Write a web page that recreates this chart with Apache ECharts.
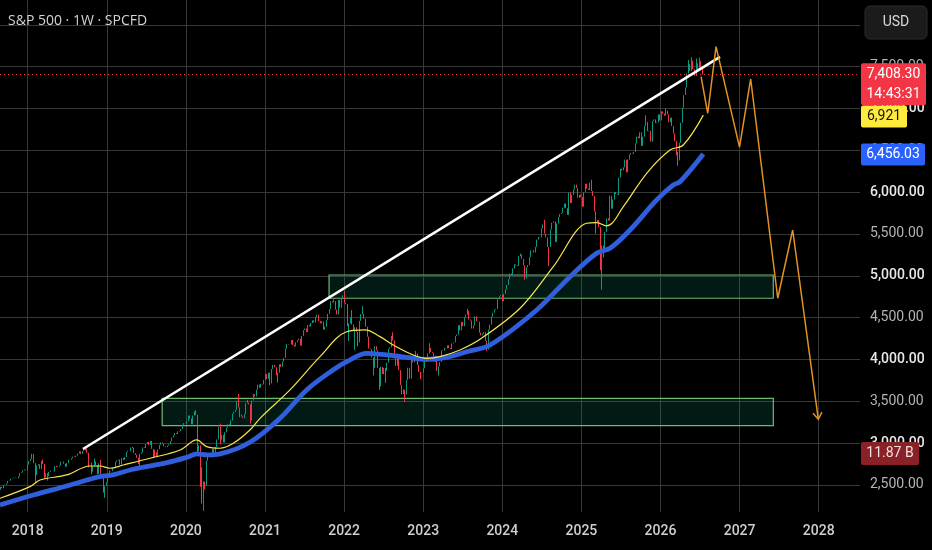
<!DOCTYPE html>
<html>
<head>
<meta charset="utf-8">
<script src="https://cdn.jsdelivr.net/npm/echarts@6/dist/echarts.min.js"></script>
<style>
html,body{margin:0;padding:0;background:#000;}
#c{width:932px;height:550px;}
</style>
</head>
<body>
<div id="c"></div>
<script>
// ---------- DATA (weekly closes, S&P 500, week ending Fridays) ----------
const firstOpen = 2425; // close of week before first bar
const c2017 = [2443,2477,2461,2500,2502,2519,2549,2553,2575,2581,2588,2582,2579,2602,2642,2652,2675,2684,2674];
const c2018 = [2743,2786,2810,2873,2762,2620,2732,2747,2691,2786,2752,2588,2640,2604,2656,2670,2670,2663,2728,2713,2721,2735,2779,2780,2755,2718,2760,2801,2802,2819,2840,2833,2850,2875,2902,2872,2905,2930,2914,2886,2767,2768,2659,2723,2781,2736,2633,2760,2633,2600,2417,2486];
const c2019 = [2532,2596,2671,2665,2707,2708,2776,2793,2804,2743,2822,2800,2834,2893,2907,2905,2940,2946,2881,2860,2826,2752,2873,2887,2950,2942,2990,3014,2977,3026,2932,2919,2889,2847,2926,2979,3007,2992,2962,2952,2970,2986,3023,3067,3093,3120,3110,3141,3146,3169,3221,3240];
const c2020 = [3235,3265,3330,3295,3226,3328,3380,3338,2954,2972,2711,2305,2541,2489,2790,2875,2837,2831,2930,2864,2955,3044,3194,3041,3098,3009,3130,3185,3225,3216,3271,3351,3373,3397,3508,3427,3341,3319,3298,3348,3477,3484,3465,3270,3510,3585,3558,3638,3699,3663,3709,3703,3756];
const c2021 = [3825,3768,3841,3714,3887,3934,3907,3811,3842,3943,3913,3975,4020,4129,4185,4180,4181,4233,4174,4156,4204,4230,4247,4166,4281,4352,4370,4327,4412,4395,4437,4468,4442,4509,4535,4459,4433,4455,4357,4391,4471,4545,4605,4697,4682,4698,4595,4538,4712,4620,4726,4766];
const c2022 = [4677,4662,4398,4432,4501,4419,4349,4385,4329,4204,4463,4543,4546,4488,4392,4272,4132,4123,4024,3901,4158,4109,3901,3675,3912,3825,3899,3863,3962,4130,4145,4280,4228,4058,3924,4067,3873,3693,3586,3640,3583,3752,3901,3771,3993,3965,4026,4072,3934,3852,3845,3840];
const c2023 = [3895,3999,3973,4071,4136,4090,4079,3970,4045,3862,3917,3971,4109,4105,4138,4133,4169,4136,4124,4192,4205,4282,4299,4410,4348,4450,4399,4505,4536,4582,4478,4464,4370,4406,4516,4457,4450,4320,4288,4309,4327,4224,4117,4358,4415,4514,4559,4595,4604,4719,4755,4770];
const c2024 = [4697,4784,4840,4891,4959,5027,5006,5089,5137,5124,5117,5234,5254,5204,5123,4967,5100,5128,5223,5303,5305,5278,5347,5432,5465,5460,5567,5615,5505,5459,5346,5344,5554,5635,5648,5408,5626,5703,5738,5751,5815,5864,5808,5729,5996,5870,5969,6032,6090,6051,5931,5971];
const c2025 = [5942,5827,5997,6101,6041,6026,6115,6013,5955,5770,5639,5668,5581,5074,5363,5283,5525,5687,5660,5958,5803,5912,6000,5977,5968,6173,6279,6260,6297,6389,6238,6389,6450,6467,6460,6482,6584,6664,6644,6716,6553,6664,6792,6840,6728,6734,6603,6849,6870,6827,6834,6930];
const c2026 = [6858,6966,6940,6915,6975,6932,6836,6890,6790,6700,6610,6480,6380,6590,6830,7010,7160,7250,7420,7530,7450,7570,7470,7390,7540,7450,7565,7490,7408.30];

// wick extremes (week-ending date, value)
const wickHigh = [['2018-01-26',2873],['2018-03-09',2787],['2018-03-16',2802],['2018-09-21',2941],['2018-10-05',2939],['2018-11-09',2815],['2018-12-07',2800],['2019-04-26',2947],['2019-05-03',2954],['2019-07-26',3028],['2020-02-21',3393],['2020-06-12',3233],['2020-09-04',3588],['2020-10-16',3515],['2021-11-19',4718],['2022-01-07',4818],['2022-02-11',4590],['2022-04-01',4637],['2022-08-19',4325],['2022-12-02',4101],['2023-02-03',4195],['2023-07-28',4607],['2024-03-29',5264],['2024-07-19',5669],['2025-02-21',6147],['2025-10-31',6920],['2026-01-30',7002],['2026-05-15',7580],['2026-05-29',7612],['2026-06-19',7598],['2026-07-03',7608]];
const wickLow = [['2018-02-09',2533],['2018-03-23',2585],['2018-04-06',2553],['2018-10-12',2710],['2018-10-26',2628],['2018-11-23',2631],['2018-12-21',2409],['2018-12-28',2346],['2019-05-31',2750],['2019-06-07',2728],['2019-08-09',2822],['2019-08-16',2835],['2019-08-23',2846],['2020-02-28',2855],['2020-03-06',2901],['2020-03-13',2478],['2020-03-20',2280],['2020-03-27',2191],['2020-04-03',2447],['2020-06-12',2984],['2020-09-11',3310],['2020-10-30',3234],['2021-01-29',3694],['2021-03-05',3723],['2022-01-28',4222],['2022-02-25',4114],['2022-03-11',4157],['2022-05-20',3810],['2022-06-17',3637],['2022-07-15',3721],['2022-09-30',3584],['2022-10-14',3491],['2022-12-23',3764],['2023-03-17',3808],['2023-10-27',4103],['2024-04-19',4953],['2024-08-09',5119],['2024-09-06',5402],['2025-03-14',5505],['2025-04-04',5069],['2025-04-11',4835],['2025-04-18',5220],['2026-03-20',6440],['2026-03-27',6316]];

// moving averages [fractional year, value]
const ma50 = [[2017.650,2341],[2018.029,2480],[2018.156,2560],[2018.493,2620],[2018.788,2727],[2018.914,2727],[2019.040,2700],[2019.209,2739],[2019.546,2819],[2019.926,2918],[2020.137,3038],[2020.263,2958],[2020.431,2939],[2020.599,2998],[2020.810,3157],[2020.937,3297],[2021.316,3636],[2021.695,4034],[2022.033,4332],[2022.264,4353],[2022.454,4273],[2022.622,4173],[2022.875,4054],[2023.044,4014],[2023.212,4034],[2023.465,4114],[2023.718,4241],[2024.224,4612],[2024.645,5110],[2025.067,5628],[2025.193,5635],[2025.320,5596],[2025.530,5827],[2025.825,6226],[2026.120,6504],[2026.288,6564],[2026.541,6921]];
const ma100 = [[2017.650,2261],[2018.071,2380],[2018.493,2488],[2018.829,2580],[2018.914,2600],[2019.078,2620],[2019.331,2688],[2019.761,2767],[2020.014,2831],[2020.140,2871],[2020.267,2859],[2020.431,2871],[2020.810,3010],[2021.190,3297],[2021.527,3636],[2021.860,3875],[2022.033,3974],[2022.286,4074],[2022.539,4054],[2022.791,4026],[2023.044,4002],[2023.297,4026],[2023.550,4093],[2023.845,4173],[2024.435,4592],[2024.856,4990],[2025.193,5270],[2025.362,5329],[2025.615,5548],[2025.952,5907],[2026.162,6086],[2026.247,6125],[2026.541,6456.03]];

// drawings
const trendLine = [[2018.699,2930],[2026.752,7616]];
const zoneUpper = [[2021.81,5010],[2027.426,4732]];
const zoneLower = [[2019.70,3536],[2027.426,3209]];
const projection = [[2026.513,7381],[2026.597,6943],[2026.702,7739],[2026.999,6538],[2027.140,7353],[2027.482,4732],[2027.671,5548],[2027.995,3285]];

// axis ticks
const yearTicks = [2018,2019,2020,2021,2022,2023,2024,2025,2026,2027,2028];
const priceTicks = [2500,3000,3500,4000,4500,5000,5500,6000,6500,7000,7500,8000];
const volumeLabel = '11.87 B';
const countdown = '14:43:31';

// ---------- BUILD ----------
const DAY = 86400000;
const fri0 = Date.UTC(2017,7,25);
function yearFrac(t){
  const y = new Date(t).getUTCFullYear();
  const s = Date.UTC(y,0,1), e = Date.UTC(y+1,0,1);
  return y + (t - s)/(e - s);
}
const closes = [].concat(c2017,c2018,c2019,c2020,c2021,c2022,c2023,c2024,c2025,c2026);
const hiMap = new Map(wickHigh), loMap = new Map(wickLow);
const candles = closes.map((c,i)=>{
  const tFri = fri0 + i*7*DAY;
  const key = new Date(tFri).toISOString().slice(0,10);
  const o = i ? closes[i-1] : firstOpen;
  const h = Math.max(o, c, hiMap.has(key) ? hiMap.get(key) : -Infinity);
  const l = Math.min(o, c, loMap.has(key) ? loMap.get(key) : Infinity);
  return [yearFrac(tFri - 4*DAY), o, c, l, h];
});
const lastClose = closes[closes.length-1];
const lastMa50 = ma50[ma50.length-1][1];
const lastMa100 = ma100[ma100.length-1][1];
const fmt2 = v => v.toLocaleString('en-US',{minimumFractionDigits:2, maximumFractionDigits:2});
const fmt0 = v => Math.round(v).toLocaleString('en-US');

const chart = echarts.init(document.getElementById('c'), null, {renderer:'canvas'});
const option = {
  backgroundColor:'#000',
  animation:false,
  title:{text:'S&P 500 · 1W · SPCFD', left:8, top:14, padding:0, textStyle:{color:'#d4d4d4', fontSize:14, fontWeight:'normal', fontFamily:'Open Sans'}},
  grid:{left:0, right:72, top:0, bottom:38},
  xAxis:{
    type:'value', min:2017.65, max:2028.522,
    axisLine:{show:false},
    axisTick:{show:false, customValues:yearTicks},
    axisLabel:{customValues:yearTicks, color:'#cfcfcf', fontSize:14, fontFamily:'Roboto', fontWeight:500, margin:12, formatter:v=>String(v)},
    splitLine:{show:true, lineStyle:{color:'#383838', width:1}}
  },
  yAxis:{
    type:'value', position:'right', min:2177, max:8297, scale:true,
    axisLine:{show:false},
    axisTick:{show:false, customValues:priceTicks},
    axisLabel:{customValues:priceTicks, margin:10, fontFamily:'Roboto',
      formatter:v=> (v%1000===0?'{b|':'{n|') + fmt2(v) + '}',
      rich:{b:{color:'#e8e8e8', fontSize:14, fontFamily:'Roboto', fontWeight:500}, n:{color:'#b4b4b4', fontSize:14, fontFamily:'Roboto'}}},
    splitLine:{show:true, lineStyle:{color:'#383838', width:1}}
  },
  series:[
    {type:'candlestick', data:candles, barWidth:1, z:3,
      itemStyle:{color:'#089981', color0:'#f23645', borderColor:'#089981', borderColor0:'#f23645', borderWidth:1},
      markLine:{silent:true, symbol:['none','none'], label:{show:false},
        lineStyle:{color:'#f23645', type:[1,3], width:1}, data:[{yAxis:lastClose}]},
      markArea:{silent:true,
        itemStyle:{color:'rgba(20,150,110,0.17)', borderColor:'#6dbb73', borderWidth:1.2},
        data:[[{coord:zoneUpper[0]},{coord:zoneUpper[1]}],[{coord:zoneLower[0]},{coord:zoneLower[1]}]]}
    },
    {type:'line', data:ma100, smooth:0.35, showSymbol:false, z:4, lineStyle:{color:'#2f5fdc', width:4.8}},
    {type:'line', data:ma50, smooth:0.35, showSymbol:false, z:5, lineStyle:{color:'#f5e64a', width:1.2}},
    {type:'line', data:trendLine, showSymbol:false, z:6, lineStyle:{color:'#ffffff', width:2.6}},
    {type:'line', data:projection, showSymbol:false, z:7, lineStyle:{color:'#e39323', width:1.5}}
  ]
};
chart.setOption(option);

// price badges and arrowhead via library scales
const P = (x,y)=>chart.convertToPixel({xAxisIndex:0, yAxisIndex:0},[x,y]);
const yClose = P(2020,lastClose)[1];
const yM50 = P(2020,lastMa50)[1];
const yM100 = P(2020,lastMa100)[1];
const a = P(projection[projection.length-2][0], projection[projection.length-2][1]);
const b = P(projection[projection.length-1][0], projection[projection.length-1][1]);
const ang = Math.atan2(b[1]-a[1], b[0]-a[0]);
const L = 8, spread = 0.6;
const arm1 = [b[0]-L*Math.cos(ang-spread), b[1]-L*Math.sin(ang-spread)];
const arm2 = [b[0]-L*Math.cos(ang+spread), b[1]-L*Math.sin(ang+spread)];
const tf = {fontFamily:'Roboto', fontSize:14};
chart.setOption({graphic:[
  {type:'polyline', z:100, shape:{points:[arm1,b,arm2]}, style:{stroke:'#e39323', lineWidth:1.5, fill:null}},
  {type:'rect', z:100, shape:{x:865, y:6, width:62, height:33, r:5}, style:{fill:'#1b1b1b', stroke:'#2c2c2c', lineWidth:1}},
  {type:'text', z:101, style:Object.assign({text:'USD', x:896, y:22.5, fill:'#d8d8d8', align:'center', verticalAlign:'middle'}, tf)},
  {type:'rect', z:100, shape:{x:861, y:yClose-11, width:65, height:42, r:2}, style:{fill:'#f23645'}},
  {type:'text', z:101, style:Object.assign({text:fmt2(lastClose), x:893.5, y:yClose, fill:'#ffffff', align:'center', verticalAlign:'middle'}, tf)},
  {type:'text', z:101, style:Object.assign({text:countdown, x:893.5, y:yClose+20, fill:'#ffffff', align:'center', verticalAlign:'middle'}, tf)},
  {type:'rect', z:100, shape:{x:861, y:yM50-9.5, width:46, height:22, r:2}, style:{fill:'#ffeb3b'}},
  {type:'text', z:101, style:Object.assign({text:fmt0(lastMa50), x:884, y:yM50+1.5, fill:'#131313', align:'center', verticalAlign:'middle'}, tf)},
  {type:'rect', z:100, shape:{x:861, y:yM100-10.5, width:64, height:22, r:2}, style:{fill:'#2962ff'}},
  {type:'text', z:101, style:Object.assign({text:fmt2(lastMa100), x:893, y:yM100+0.5, fill:'#ffffff', align:'center', verticalAlign:'middle'}, tf)},
  {type:'rect', z:100, shape:{x:861, y:442, width:58, height:23, r:2}, style:{fill:'#8a2127'}},
  {type:'text', z:101, style:Object.assign({text:volumeLabel, x:890, y:453.5, fill:'#f0e0e0', align:'center', verticalAlign:'middle'}, tf)}
]});
</script>
</body>
</html>
